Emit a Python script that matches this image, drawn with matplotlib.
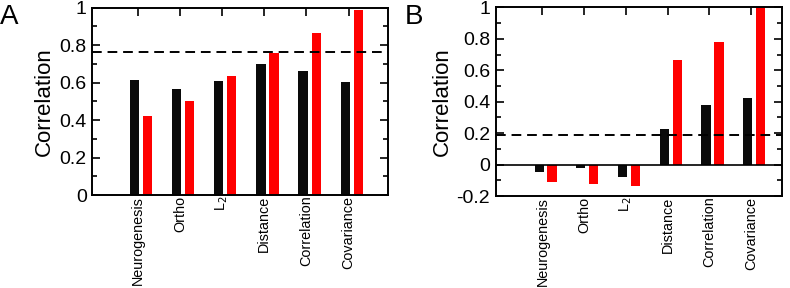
import numpy as np
import matplotlib
matplotlib.use("Agg")
import matplotlib.pyplot as plt
from matplotlib.ticker import MultipleLocator, FuncFormatter

plt.rcParams['font.family'] = ['Liberation Sans', 'DejaVu Sans']
plt.rcParams['axes.unicode_minus'] = False

methods = ['Neurogenesis', 'Ortho', r'L$_2$', 'Distance', 'Correlation', 'Covariance']

# panel A
a_black = [0.616, 0.563, 0.606, 0.698, 0.661, 0.604]
a_red = [0.421, 0.503, 0.634, 0.755, 0.863, 0.986]
a_dash = 0.764

# panel B
b_black = [-0.049, -0.021, -0.079, 0.228, 0.377, 0.426]
b_red = [-0.113, -0.123, -0.138, 0.666, 0.781, 1.0]
b_dash = 0.187

fig = plt.figure(figsize=(7.9, 2.88), dpi=100)
axA = fig.add_axes([0.1168, 0.3229, 0.3747, 0.651])
axB = fig.add_axes([0.6275, 0.3194, 0.3628, 0.655])

x = np.arange(1, len(methods) + 1)
w = 0.22
fmt = FuncFormatter(lambda v, p: '%g' % round(v, 2))

def draw(ax, black, red, dash, ylim, xlim, letter, lx):
    ax.bar(x, black, width=w, color='#0a0a0a')
    ax.bar(x + 0.31, red, width=w, color='#ff0000')
    ax.axhline(dash, color='black', ls=(0, (5, 3)), lw=1.4)
    ax.set_xlim(*xlim)
    ax.set_ylim(*ylim)
    ax.yaxis.set_major_locator(MultipleLocator(0.2))
    ax.yaxis.set_minor_locator(MultipleLocator(0.1))
    ax.yaxis.set_major_formatter(fmt)
    ax.tick_params(axis='y', which='both', direction='in', right=True, labelsize=14, width=1.2, pad=4)
    ax.tick_params(axis='y', which='major', length=6)
    ax.tick_params(axis='y', which='minor', length=3.5)
    ax.set_xticks(x + 0.08)
    ax.set_xticklabels(methods, rotation=90, fontsize=10.4)
    ax.tick_params(axis='x', direction='in', bottom=False, top=True, length=6, width=1.2, pad=0.5)
    ax.set_ylabel('Correlation', fontsize=16, labelpad=3)
    for s in ax.spines.values():
        s.set_linewidth(1.4)
    fig.text(lx, 0.985, letter, fontsize=20, va='top', ha='left')

draw(axA, a_black, a_red, a_dash, (0, 1), (0, 7.02), 'A', 0.0)
draw(axB, b_black, b_red, b_dash, (-0.2, 1), (-0.04, 6.83), 'B', 0.512)
axB.axhline(0, color='black', lw=1.2)

fig.savefig('out.png', dpi=100)
